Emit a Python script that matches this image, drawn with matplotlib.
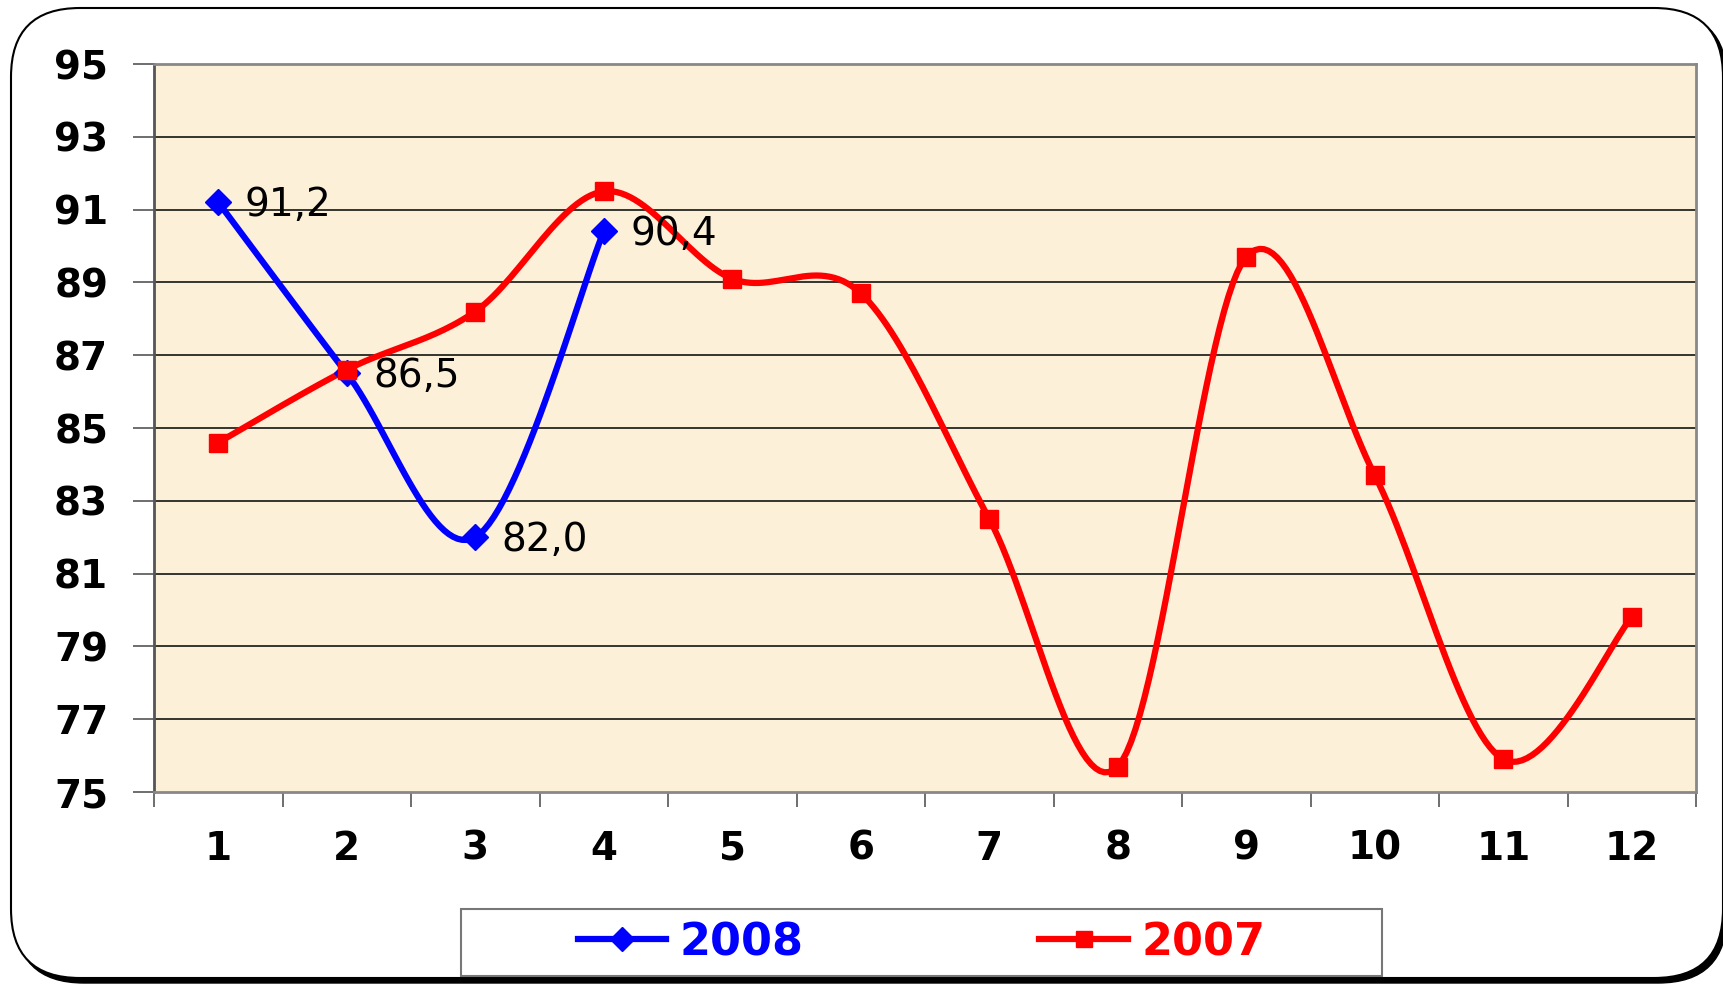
import numpy as np
import matplotlib
matplotlib.use("Agg")
import matplotlib.pyplot as plt
from matplotlib.lines import Line2D
from matplotlib.patches import FancyBboxPatch, Rectangle

months = list(range(1, 13))
year_2008 = [91.2, 86.5, 82.0, 90.4]
year_2007 = [84.6, 86.6, 88.2, 91.5, 89.1, 88.7, 82.5, 75.7, 89.7, 83.7, 75.9, 79.8]
labels_2008 = ["91,2", "86,5", "82,0", "90,4"]
y_ticks = list(range(75, 96, 2))


def smooth(x, y, n=30):
    # excel-style smoothed line: cubic bezier, tangents from neighbours / 6
    x = np.asarray(x, float)
    y = np.asarray(y, float)
    pts = np.column_stack([x, y])
    out = [pts[0]]
    t = np.linspace(0, 1, n)[1:, None]
    for i in range(len(pts) - 1):
        p0 = pts[max(i - 1, 0)]
        p1 = pts[i]
        p2 = pts[i + 1]
        p3 = pts[min(i + 2, len(pts) - 1)]
        c1 = p1 + (p2 - p0) / 6
        c2 = p2 - (p3 - p1) / 6
        seg = ((1 - t) ** 3) * p1 + 3 * ((1 - t) ** 2) * t * c1 \
            + 3 * (1 - t) * t ** 2 * c2 + t ** 3 * p2
        out.extend(seg)
    out = np.array(out)
    return out[:, 0], out[:, 1]


fig = plt.figure(figsize=(17.23, 9.86), dpi=100)

# rounded frame with shadow
shadow = FancyBboxPatch((15 / 1723, 3 / 986), 1712 / 1723, 971 / 986,
                        boxstyle="round,pad=0,rounding_size=0.04",
                        transform=fig.transFigure, facecolor="black",
                        edgecolor="black", zorder=0, mutation_aspect=1723 / 986)
frame = FancyBboxPatch((11 / 1723, 8 / 986), 1712 / 1723, 970 / 986,
                       boxstyle="round,pad=0,rounding_size=0.04",
                       transform=fig.transFigure, facecolor="white",
                       edgecolor="black", linewidth=1.5, zorder=1,
                       mutation_aspect=1723 / 986)
fig.patches.extend([shadow, frame])

ax = fig.add_axes([154 / 1723, 194 / 986, 1542 / 1723, 728 / 986])
ax.set_facecolor("#fcf0d9")
ax.set_zorder(2)

for v in y_ticks[1:-1]:
    ax.axhline(v, color="black", linewidth=1.1, zorder=1)

xs, ys = smooth(months[:len(year_2008)], year_2008)
ax.plot(xs, ys, color="#0000ff", linewidth=4.5, zorder=3, solid_capstyle="round")
ax.plot(months[:len(year_2008)], year_2008, linestyle="none", marker="D",
        markersize=13, color="#0000ff", zorder=4)

xs, ys = smooth(months, year_2007)
ax.plot(xs, ys, color="#ff0000", linewidth=4.5, zorder=3, solid_capstyle="round")
ax.plot(months, year_2007, linestyle="none", marker="s", markersize=13,
        color="#ff0000", zorder=4)

for m, v, lab in zip(months, year_2008, labels_2008):
    ax.annotate(lab, (m, v), xytext=(19, -2), textcoords="offset points",
                ha="left", va="center", fontsize=28, color="black", zorder=5)

ax.set_xlim(0.5, 12.5)
ax.set_ylim(75, 95)
ax.set_yticks(y_ticks)
ax.set_yticklabels([str(v) for v in y_ticks], fontsize=28, fontweight="bold")
ax.set_xticks(months)
ax.set_xticklabels([str(m) for m in months], fontsize=28, fontweight="bold")
ax.set_xticks(np.arange(0.5, 13, 1), minor=True)
ax.tick_params(axis="x", which="major", length=0, pad=27)
ax.tick_params(axis="x", which="minor", length=11, width=1.2, color="#555555")
ax.tick_params(axis="y", length=15, width=1.2, color="#555555", pad=18)

for side in ["top", "right", "bottom"]:
    ax.spines[side].set_color("#888888")
    ax.spines[side].set_linewidth(2)
ax.spines["left"].set_color("#555555")
ax.spines["left"].set_linewidth(2)

# legend
fig.patches.append(Rectangle((461 / 1723, 10 / 986), 921 / 1723, 67 / 986,
                             transform=fig.transFigure, facecolor="white",
                             edgecolor="#777777", linewidth=1.5, zorder=3))
handles = [Line2D([], [], color="#0000ff", linewidth=4.5, marker="D", markersize=12),
           Line2D([], [], color="#ff0000", linewidth=4.5, marker="s", markersize=12)]
leg = fig.legend(handles, ["2008", "2007"], loc="center", ncol=2,
                 bbox_to_anchor=(921.5 / 1723, 43.5 / 986), frameon=False,
                 prop={"size": 32, "weight": "bold"}, handlelength=2.0,
                 handletextpad=0.3, columnspacing=5.3)
leg.set_zorder(4)
for txt, c in zip(leg.get_texts(), ["#0000ff", "#ff0000"]):
    txt.set_color(c)

fig.savefig("out.png", dpi=100)
